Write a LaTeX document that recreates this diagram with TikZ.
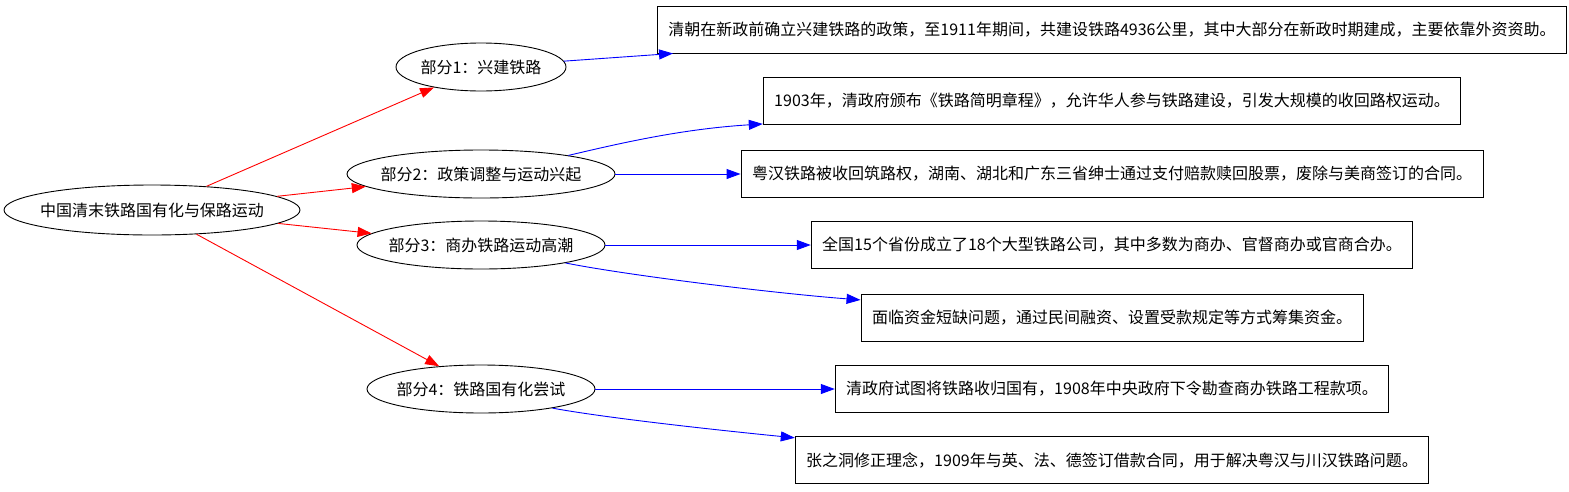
\documentclass[tikz,border=0pt]{standalone}
\usepackage{fontspec}
\setmainfont{Noto Sans CJK SC}
\usetikzlibrary{shapes.geometric,arrows.meta}
\definecolor{edgered}{RGB}{255,0,0}
\definecolor{edgeblue}{RGB}{0,0,255}

\begin{document}
\begin{tikzpicture}[x=1pt, y=-1pt,
        part/.style={draw, ellipse, line width=0.9pt, inner xsep=-14pt, inner ysep=0pt, minimum height=48pt, font=\fontsize{16}{19}\selectfont},
        fact/.style={draw, rectangle, line width=0.9pt, inner xsep=11pt, minimum height=47pt, font=\fontsize{16}{19}\selectfont},
        redarrow/.style={-{Triangle[length=14pt,width=10pt]}, edgered, line width=0.9pt},
        bluearrow/.style={-{Triangle[length=14pt,width=10pt]}, edgeblue, line width=0.9pt}
    ]
        \useasboundingbox (0,0) rectangle (1569,491);

        \node[part, minimum width=296pt, minimum height=50pt] (root) at (152,210) {中国清末铁路国有化与保路运动};
        \node[part, minimum width=170pt] (p1) at (481,67) {部分1：兴建铁路};
        \node[part, minimum width=268pt] (p2) at (481,174) {部分2：政策调整与运动兴起};
        \node[part, minimum width=248pt] (p3) at (481,245) {部分3：商办铁路运动高潮};
        \node[part, minimum width=228pt] (p4) at (481,389) {部分4：铁路国有化尝试};

        \node[fact] (b1) at (1112,29.5) {清朝在新政前确立兴建铁路的政策，至1911年期间，共建设铁路4936公里，其中大部分在新政时期建成，主要依靠外资资助。};
        \node[fact] (b2) at (1112,101) {1903年，清政府颁布《铁路简明章程》，允许华人参与铁路建设，引发大规模的收回路权运动。};
        \node[fact] (b3) at (1112,174) {粤汉铁路被收回筑路权，湖南、湖北和广东三省绅士通过支付赔款赎回股票，废除与美商签订的合同。};
        \node[fact] (b4) at (1112,245) {全国15个省份成立了18个大型铁路公司，其中多数为商办、官督商办或官商合办。};
        \node[fact] (b5) at (1112,317.5) {面临资金短缺问题，通过民间融资、设置受款规定等方式筹集资金。};
        \node[fact] (b6) at (1112,389) {清政府试图将铁路收归国有，1908年中央政府下令勘查商办铁路工程款项。};
        \node[fact] (b7) at (1112,460) {张之洞修正理念，1909年与英、法、德签订借款合同，用于解决粤汉与川汉铁路问题。};

        \draw[redarrow] (root) -- (p1);
        \draw[redarrow] (root) -- (p2);
        \draw[redarrow] (root) -- (p3);
        \draw[redarrow] (root) -- (p4);

        \draw[bluearrow] (p1) -- ([xshift=16pt]b1.south west);
        \draw[bluearrow] (p2.12) .. controls +(55,-13) and +(-80,5) .. ([yshift=1pt]b2.south west);
        \draw[bluearrow] (p2) -- (b3);
        \draw[bluearrow] (p3) -- (b4);
        \draw[bluearrow] (p3.-12) .. controls +(60,12) and +(-90,-7) .. (b5.176);
        \draw[bluearrow] (p4) -- (b6);
        \draw[bluearrow] (p4.-15) .. controls +(55,10) and +(-80,-8) .. (b7.176);
    \end{tikzpicture}
\end{document}
